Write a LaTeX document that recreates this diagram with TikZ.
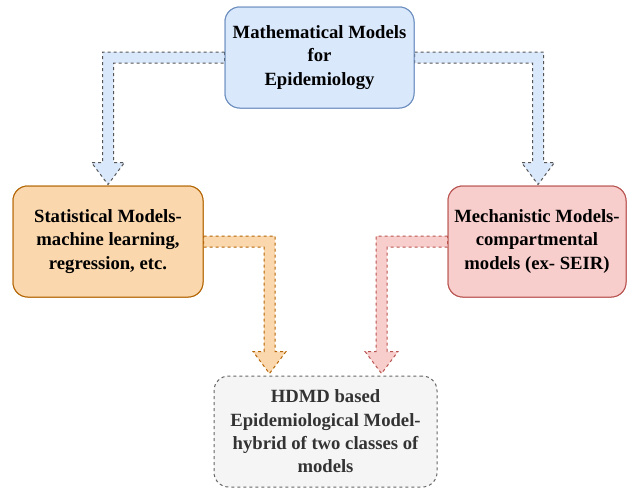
\documentclass[tikz,border=0pt]{standalone}
\usepackage{fontspec}
\setmainfont{Liberation Serif}
\usetikzlibrary{calc}
\definecolor{bluefill}{HTML}{DAE8FC}
\definecolor{bluedraw}{HTML}{6C8EBF}
\definecolor{orfill}{HTML}{FAD7AC}
\definecolor{ordraw}{HTML}{B46504}
\definecolor{redfill}{HTML}{F8CECC}
\definecolor{reddraw}{HTML}{B85450}
\definecolor{grfill}{HTML}{F5F5F5}
\definecolor{grdraw}{HTML}{666666}
\definecolor{grtext}{HTML}{333333}
\definecolor{arrgray}{HTML}{555555}
\newcommand\flexarr[5]{%
  \path[fill=#1,draw=#2,line width=0.75pt,dash pattern=on 2.25pt off 2.25pt]
    ($(#3)+(0,-5.5)$)
    -- ($(#4 |- #3)+({(#5)*5.5},-5.5)$)
    -- ($(#4)+({(#5)*5.5},-22)$)
    -- ($(#4)+({(#5)*16.5},-22)$)
    -- (#4)
    -- ($(#4)+({-(#5)*16.5},-22)$)
    -- ($(#4)+({-(#5)*5.5},-22)$)
    -- ($(#4 |- #3)+({-(#5)*5.5},5.5)$)
    -- ($(#3)+(0,5.5)$) -- cycle;}
\tikzset{
  box/.style={rounded corners=11pt,line width=0.75pt,align=center,
    font=\fontsize{14pt}{17.5pt}\selectfont\bfseries,inner sep=0pt},
  topbox/.style={box,fill=bluefill,draw=bluedraw,minimum width=141.75pt,minimum height=75.75pt},
  statbox/.style={box,fill=orfill,draw=ordraw,minimum width=142.5pt,minimum height=83.25pt},
  mechbox/.style={box,fill=redfill,draw=reddraw,minimum width=133.5pt,minimum height=83.25pt}
}
\begin{document}
\begin{tikzpicture}[x=0.75pt,y=-0.75pt]
\useasboundingbox (0,0) rectangle (627,489);
\node[topbox] (top) at (319.5,57.5) {Mathematical Models\\for\\Epidemiology};
\node[statbox] (stat) at (108,241.5) {Statistical Models-\\machine learning,\\regression, etc.};
\node[mechbox] (mech) at (537,241.5) {Mechanistic Models-\\compartmental\\models (ex- SEIR)};
\coordinate (t1) at ($(stat.north)+(0,-1)$);
\coordinate (t2) at ($(mech.north)+(1,-1)$);
\coordinate (s1) at (top.west);
\coordinate (s2) at (top.east);
\node[box,fill=grfill,draw=grdraw,text=grtext,dash pattern=on 2.25pt off 2.25pt,minimum width=167.25pt,minimum height=83.25pt] (hdmd) at (325.5,431.5)
  {HDMD based\\Epidemiological Model-\\hybrid of two classes of\\models};
\coordinate (t3) at ($(hdmd.north)+(-56,-2)$);
\coordinate (t4) at ($(hdmd.north)+(56,-2)$);
\flexarr{bluefill}{arrgray}{s1}{t1}{-1}
\flexarr{bluefill}{arrgray}{s2}{t2}{1}
\flexarr{orfill}{ordraw}{stat.east}{t3}{1}
\flexarr{redfill}{reddraw}{mech.west}{t4}{-1}
% boxes drawn again over the arrow roots
\node[topbox] at (top) {Mathematical Models\\for\\Epidemiology};
\node[statbox] at (stat) {Statistical Models-\\machine learning,\\regression, etc.};
\node[mechbox] at (mech) {Mechanistic Models-\\compartmental\\models (ex- SEIR)};
\end{tikzpicture}
\end{document}
